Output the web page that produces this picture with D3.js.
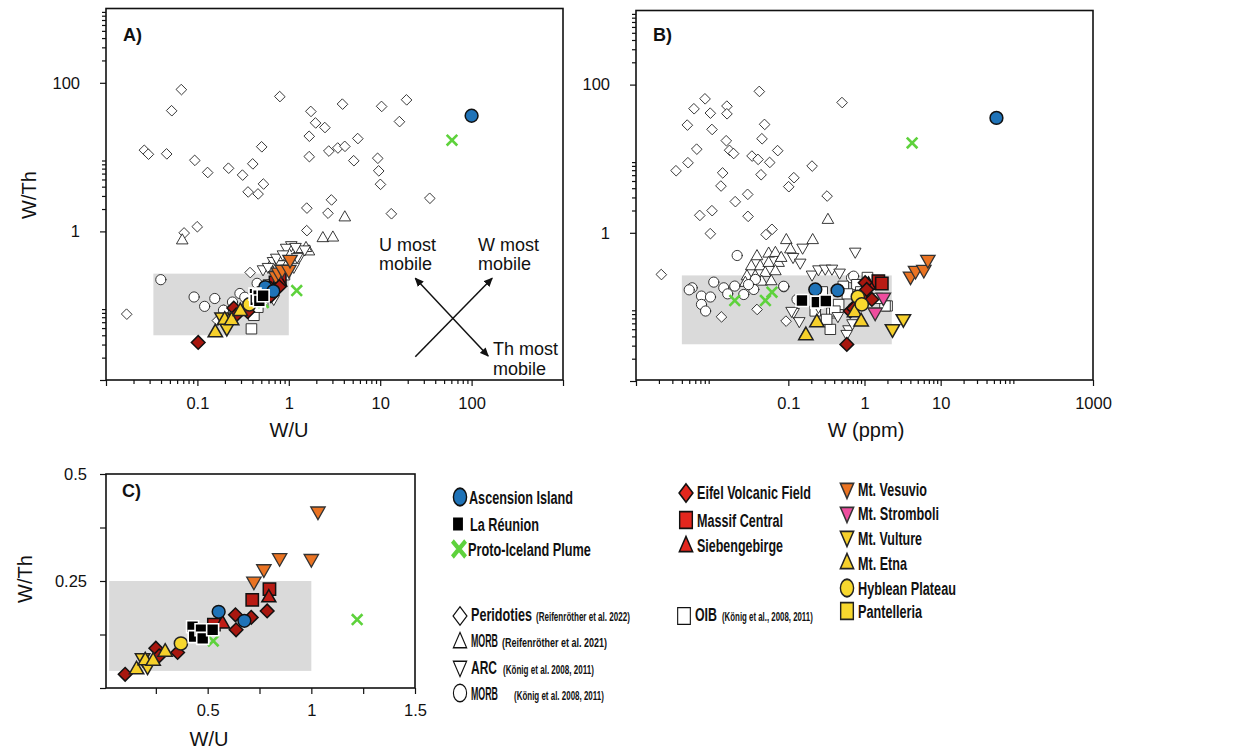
<!DOCTYPE html>
<html><head><meta charset="utf-8">
<script src="https://cdn.jsdelivr.net/npm/d3@7"></script>
<style>
body{margin:0;background:#fff}
svg{display:block}
text{font-family:"Liberation Sans",Arial,Helvetica,sans-serif;fill:#111}
</style>
</head><body>
<svg id="c" width="1258" height="750"></svg>
<script>
// ================= DATA =================
// Panels A & C : [W/U, W/Th]
const ascensionWU   = [[0.553,0.178],[0.677,0.157],[100,36]];
const reunionWU     = [[0.427,0.143],[0.435,0.120],[0.468,0.136],[0.476,0.116],[0.524,0.136]];
const icelandWU     = [[61,16.9],[1.221,0.160],[0.527,0.110]];
const eifelWU       = [[0.102,0.032],[0.250,0.093],[0.266,0.075],[0.355,0.083],[0.634,0.171],[0.637,0.136],[0.710,0.165],[0.787,0.180]];
const massifWU      = [[0.530,0.148],[0.715,0.206],[0.798,0.231]];
const siebenWU      = [[0.572,0.151],[0.795,0.212]];
const vesuvioWU     = [[0.723,0.248],[0.771,0.277],[0.847,0.303],[1.000,0.301],[1.032,0.412]];
const vultureWU     = [[0.186,0.069],[0.210,0.050]];
const etnaWU        = [[0.157,0.044],[0.199,0.065],[0.237,0.064],[0.295,0.085]];
const hybleanWU     = [[0.371,0.104]];

// Panel A open symbols : [W/U, W/Th]
const peridotitesA = [[0.067,80.7],[0.0525,41.9],[0.0264,12.3],[0.0292,10.9],[0.0463,11.0],[0.094,9.0],[0.130,6.18],[0.220,7.06],[0.313,5.7],[0.405,8.07],[0.507,13.7],[0.36,3.38],[0.463,3.18],[0.53,4.32],[0.80,65],[1.75,41],[1.97,28.7],[2.49,24.9],[1.68,19.0],[1.68,10.1],[2.75,12.0],[3.45,13.2],[4.12,13.9],[3.88,51.4],[5.71,17.7],[5.16,8.9],[10.4,47.9],[19.5,58.7],[16.3,29.9],[9.43,9.6],[9.67,6.5],[10.1,4.28],[35,2.78],[13.3,1.72],[2.94,2.64],[2.69,1.75],[1.58,2.05],[1.58,1.02],[0.072,0.95],[0.1,1.15],[0.0169,0.0766],[0.379,0.278],[0.166,0.0625],[0.196,0.087]];
const morbReifA = [[0.0686,0.76],[2.37,0.815],[3.05,0.83],[4.12,1.55],[1.67,0.54],[1.55,0.60],[1.30,0.56],[0.62,0.33],[0.85,0.45]];
const arcA = [[1.07,0.65],[0.94,0.60],[1.32,0.464],[1.5,0.57],[0.675,0.398],[0.80,0.36],[0.525,0.308],[0.595,0.331],[0.733,0.441],[0.867,0.489],[1.19,0.616],[1.24,0.452],[1.14,0.332],[0.688,0.123],[0.61,0.20],[0.70,0.15]];
const morbKonigA = [[0.0398,0.224],[0.092,0.131],[0.12,0.098],[0.155,0.125],[0.292,0.146],[0.242,0.112],[0.193,0.087],[0.45,0.20],[0.33,0.13]];
const oibA = [[0.392,0.0488],[0.417,0.074],[0.46,0.095],[0.52,0.115],[0.56,0.145],[0.60,0.16],[0.66,0.19],[0.75,0.21],[0.90,0.26],[0.50,0.13]];

// Panel B : [W (ppm), W/Th]
const peridotitesB = [[0.00216,0.272],[0.00337,6.85],[0.00484,8.79],[0.00474,28.3],[0.0058,47],[0.0081,64],[0.0095,41],[0.01,24.7],[0.0063,13.4],[0.0157,51],[0.0157,40.2],[0.0154,17.4],[0.017,12.9],[0.0192,11.7],[0.0138,6.4],[0.0131,4.26],[0.0202,2.62],[0.0294,3.29],[0.01,1.98],[0.0069,1.71],[0.0095,0.97],[0.0297,1.66],[0.0418,80.5],[0.049,28.9],[0.0453,18.5],[0.0335,10.8],[0.0402,9.75],[0.044,6.05],[0.0572,8.87],[0.0728,12.8],[0.1016,4.17],[0.119,5.52],[0.206,7.92],[0.324,3.12],[0.51,57],[0.0512,0.94],[0.0614,1.11],[0.0133,0.073],[0.039,0.092],[0.0937,0.064]];
const morbReifB = [[0.333,1.5],[0.0946,0.80],[0.21,0.80],[0.039,0.485],[0.0555,0.526],[0.068,0.537],[0.0328,0.355],[0.043,0.355],[0.0555,0.394],[0.075,0.394],[0.0288,0.26],[0.037,0.26],[0.05,0.289],[0.068,0.304],[0.0274,0.212],[0.045,0.22],[0.107,0.60],[0.081,0.46],[0.06,0.223],[0.168,0.0426]];
const arcB = [[0.155,0.628],[0.116,0.47],[0.144,0.394],[0.76,0.554],[0.206,0.272],[0.25,0.32],[0.307,0.327],[0.376,0.327],[0.474,0.289],[0.118,0.085],[0.14,0.064],[0.62,0.0497],[0.111,0.088],[0.586,0.043],[0.70,0.06],[0.45,0.075],[0.25,0.10]];
const morbKonigB = [[0.0213,0.494],[0.00546,0.181],[0.00724,0.14],[0.0095,0.136],[0.0105,0.216],[0.0142,0.181],[0.0198,0.191],[0.026,0.147],[0.00724,0.108],[0.0082,0.088],[0.037,0.235],[0.0352,0.172],[0.0873,0.187],[0.13,0.126],[0.675,0.247],[0.72,0.26],[0.087,0.19],[0.005,0.17],[0.016,0.15],[0.03,0.20]];
const oibB = [[0.358,0.0497],[0.376,0.083],[0.46,0.108],[1.99,0.103],[0.227,0.088],[0.53,0.19],[0.41,0.088],[0.32,0.068],[1.87,0.103],[1.5,0.13],[0.8,0.20],[0.6,0.15],[1.1,0.25],[0.9,0.16],[0.28,0.16]];
const ascensionB   = [[0.226,0.172],[0.443,0.167],[54,35.5]];
const reunionB     = [[0.151,0.122],[0.237,0.116],[0.311,0.120]];
const icelandB     = [[4.22,16.3],[0.0198,0.122],[0.05,0.122],[0.061,0.158]];
const eifelB       = [[0.586,0.0312],[0.65,0.088],[0.77,0.105],[0.72,0.095],[0.94,0.133],[1.02,0.212],[1.07,0.172],[1.25,0.126]];
const massifB      = [[1.52,0.223],[1.69,0.207]];
const siebenB      = [[1.13,0.20]];
const vesuvioB     = [[4.02,0.255],[4.68,0.304],[6.01,0.314],[6.79,0.428]];
const stromboliB   = [[1.77,0.133],[1.38,0.0835]];
const vultureB     = [[2.33,0.0497],[3.24,0.068]];
const etnaB        = [[0.17,0.0417],[0.237,0.0624],[0.74,0.085],[0.904,0.064]];
const hybleanB     = [[0.817,0.137],[0.92,0.108]];
const pantelleriaB = [];

// Reference fields (grey boxes) [xmin, xmax, ymin, ymax]
const fieldA = [0.033, 1, 0.04, 0.27];
const fieldB = [0.004, 2.28, 0.0313, 0.266];
const fieldC = [0.025, 1, 0.04, 0.25];

// Tick values / labels
const aXTickVals = [0.1, 1, 10, 100];      const aXTickLabels = ["0.1","1","10","100"];
const bXTickVals = [0.1, 1, 10, 1000];     const bXTickLabels = ["0.1","1","10","1000"];
const abYTickVals = [1, 100];              const abYTickLabels = ["1","100"];
const cXTickVals = [0.25, 0.5, 0.75, 1, 1.25, 1.5]; const cXTickLabels = ["","0.5","","1","","1.5"];
const cYTickVals = [0, 0.125, 0.25, 0.375, 0.5];    const cYTickLabels = ["","","0.25","","0.5"];

// Legend labels
const legendKeys   = ["ascension","reunion","iceland","eifel","massif","sieben","vesuvio","stromboli","vulture","etna","hyblean","pantelleria","peridotite","morbR","arc","morbK","oib"];
const legendLabels = ["Ascension Island","La Réunion","Proto-Iceland Plume","Eifel Volcanic Field","Massif Central","Siebengebirge","Mt. Vesuvio","Mt. Stromboli","Mt. Vulture","Mt. Etna","Hyblean Plateau","Pantelleria","Peridoties","MORB","ARC","MORB","OIB"];
const legendCites  = {peridotite:"(Reifenröther et al. 2022)", morbR:"(Reifenröther et al. 2021)", arc:"(König et al. 2008, 2011)", morbK:"(König et al. 2008, 2011)", oib:"(König et al., 2008, 2011)"};

// ================= STYLES / LAYOUT =================
const SHAPES = {
  circle: r => `M${r},0A${r},${r},0,1,1,${-r},0A${r},${r},0,1,1,${r},0Z`,
  square: r => { const s = r*0.88; return `M${-s},${-s}H${s}V${s}H${-s}Z`; },
  diamond: r => { const d = r*1.1; return `M0,${-d}L${d},0L0,${d}L${-d},0Z`; },
  up: r => `M0,${-r*1.1}L${r},${r*0.65}L${-r},${r*0.65}Z`,
  down: r => `M0,${r*1.1}L${r},${-r*0.65}L${-r},${-r*0.65}Z`,
  cross: r => `M${-r},${-r}L${r},${r}M${-r},${r}L${r},${-r}`
};
const OPEN = {fill:"#fff", stroke:"#222", sw:0.9};
const STY = {
  peridotite:{shape:"diamond", r:4.7, ...OPEN},
  morbR:     {shape:"up", r:5.6, ...OPEN},
  arc:       {shape:"down", r:5.6, ...OPEN},
  morbK:     {shape:"circle", r:5.1, ...OPEN},
  oib:       {shape:"square", r:5.8, ...OPEN},
  ascension: {shape:"circle", r:6.4, fill:"#1f73b8", stroke:"#111", sw:1.5},
  reunion:   {shape:"square", r:6.8, fill:"#000", stroke:"#fff", sw:1.6},
  iceland:   {shape:"cross", r:5.3, fill:"none", stroke:"#5ed23c", sw:2.6},
  eifel:     {shape:"diamond", r:6.2, fill:"#a8170f", stroke:"#111", sw:1.5},
  massif:    {shape:"square", r:7, fill:"#b81b14", stroke:"#111", sw:1.5},
  sieben:    {shape:"up", r:7, fill:"#bf1d16", stroke:"#111", sw:1.5},
  vesuvio:   {shape:"down", r:7.2, fill:"#ea7322", stroke:"#333", sw:1.3},
  stromboli: {shape:"down", r:7.2, fill:"#ee4d9e", stroke:"#333", sw:1.3},
  vulture:   {shape:"down", r:7.2, fill:"#f6d02b", stroke:"#222", sw:1.5},
  etna:      {shape:"up", r:7.2, fill:"#f6d02b", stroke:"#222", sw:1.5},
  hyblean:   {shape:"circle", r:6.6, fill:"#f8d82e", stroke:"#222", sw:1.5},
  pantelleria:{shape:"square", r:6.6, fill:"#f8d82e", stroke:"#222", sw:1.5}
};
const LEGEND_FILL = {eifel:"#e3271e", massif:"#e3271e", sieben:"#e3271e"};
// legend layout: [markerX, markerY, textX, baseline, textWidth]
const LEG_POS = {
  ascension:[460,497,469,504,104], reunion:[458,524,470,531,69], iceland:[459,549,468,556,123],
  eifel:[686,493,697,499,114], massif:[686,520,697,526.5,86], sieben:[686,546,697,552,86],
  vesuvio:[847,489,858,495.5,69], stromboli:[847,513,858,520,81], vulture:[847,537,858,545,64],
  etna:[847,563,858,570,49], hyblean:[847,588,858,595,98], pantelleria:[847,611,858,617.5,64],
  peridotite:[460,616,471,621,61], morbR:[460,642,471,647,27], arc:[460,667,471,674,26],
  morbK:[460,693,471,700,27], oib:[684,616,695,621,22]
};
const CITE_POS = {peridotite:[536,94], morbR:[502,105], arc:[503,91], morbK:[514,90], oib:[722,91]};

const svg = d3.select("#c");

function drawPts(g, data, key, xs, ys, filt) {
  const s = STY[key];
  const pts = filt ? data.filter(filt) : data;
  g.append("g").selectAll("path").data(pts).enter().append("path")
    .attr("transform", d => `translate(${xs(d[0])},${ys(d[1])})`)
    .attr("d", SHAPES[s.shape](s.r))
    .attr("fill", s.fill).attr("stroke", s.stroke).attr("stroke-width", s.sw)
    .attr("stroke-linejoin", "miter").attr("stroke-linecap", s.shape === "cross" ? "butt" : "round");
}

function minorLog(decades) {
  const out = [];
  decades.forEach(d => { for (let k = 2; k <= 9; k++) out.push(k * Math.pow(10, d)); });
  return out;
}

function styleAxis(g, fs) {
  g.select(".domain").remove();
  g.selectAll("line").attr("stroke", "#111").attr("stroke-width", 1.2);
  g.selectAll("text").attr("font-size", fs).attr("font-family", '"Liberation Sans",Arial,sans-serif').attr("fill", "#111");
}

function axisSet(gen, scale, vals, labels, size, pad, tx, ty, fs) {
  const m = new Map(vals.map((v, i) => [v, labels ? labels[i] : ""]));
  const ax = gen(scale).tickValues(vals).tickSize(size).tickPadding(pad).tickFormat(d => m.get(d) || "");
  const g = svg.append("g").attr("transform", `translate(${tx},${ty})`).call(ax);
  styleAxis(g, fs);
  return g;
}

function frame(x0, x1, y0, y1) {
  svg.append("rect").attr("x", x0).attr("y", y1).attr("width", x1 - x0).attr("height", y0 - y1)
    .attr("fill", "none").attr("stroke", "#111").attr("stroke-width", 1.6);
}

function field(xs, ys, f) {
  svg.append("rect").attr("x", xs(f[0])).attr("y", ys(f[3]))
    .attr("width", xs(f[1]) - xs(f[0])).attr("height", ys(f[2]) - ys(f[3])).attr("fill", "#dadada");
}

// condensed text: natural text horizontally scaled to a target width
function condensed(g, x, y, size, str, width) {
  const t = g.append("text").attr("font-size", size).attr("font-weight", "bold").text(str);
  const w = t.node().getComputedTextLength() || width;
  t.attr("transform", `translate(${x},${y}) scale(${(width / w).toFixed(4)},1)`);
  return t;
}

// ================= PANEL A =================
const xA = d3.scaleLog().domain([0.01, 1000]).range([106, 563]);
const yA = d3.scaleLog().domain([0.01, 1000]).range([380, 8.5]);
field(xA, yA, fieldA);
const gA = svg.append("g");
drawPts(gA, peridotitesA, "peridotite", xA, yA);
drawPts(gA, morbReifA, "morbR", xA, yA);
drawPts(gA, morbKonigA, "morbK", xA, yA);
drawPts(gA, oibA, "oib", xA, yA);
drawPts(gA, arcA, "arc", xA, yA);
const colorSetsWU = [["massif",massifWU],["sieben",siebenWU],["vesuvio",vesuvioWU],["eifel",eifelWU],["vulture",vultureWU],["etna",etnaWU],["hyblean",hybleanWU],["iceland",icelandWU],["ascension",ascensionWU],["reunion",reunionWU]];
colorSetsWU.forEach(([k, d]) => drawPts(gA, d, k, xA, yA));

axisSet(d3.axisBottom, xA, [0.01, ...aXTickVals, 1000], ["", ...aXTickLabels, ""], 6, 11, 0, 380, "16.5px");
axisSet(d3.axisBottom, xA, minorLog([-2, -1, 0, 1]), null, 4, 0, 0, 380, "0px");
axisSet(d3.axisLeft, yA, [0.01, ...abYTickVals], ["", ...abYTickLabels], 6, 20, 106, 0, "16.5px");
axisSet(d3.axisLeft, yA, minorLog([-2, 0, 2]), null, 4, 0, 106, 0, "0px");
frame(106, 563, 380, 8.5);

svg.append("text").attr("x", 123).attr("y", 41).attr("font-size", "18px").attr("font-weight", "bold").text("A)");
svg.append("text").attr("x", 289).attr("y", 437).attr("text-anchor", "middle").attr("font-size", "20px").text("W/U");
svg.append("text").attr("transform", "translate(36,195) rotate(-90)").attr("text-anchor", "middle").attr("font-size", "20px").text("W/Th");

// mobility annotation (data coordinates)
const defs = svg.append("defs");
defs.append("marker").attr("id", "ah").attr("viewBox", "0 0 10 10").attr("refX", 9).attr("refY", 5)
  .attr("markerWidth", 9).attr("markerHeight", 9).attr("markerUnits", "userSpaceOnUse").attr("orient", "auto-start-reverse")
  .append("path").attr("d", "M0,0.5L10,5L0,9.5Z").attr("fill", "#111");
const arrowsA = [
  {from:[24.2,0.234], to:[152,0.021], both:true},
  {from:[24.2,0.0205], to:[168,0.234], both:false}
];
arrowsA.forEach(a => {
  svg.append("line").attr("x1", xA(a.from[0])).attr("y1", yA(a.from[1])).attr("x2", xA(a.to[0])).attr("y2", yA(a.to[1]))
    .attr("stroke", "#111").attr("stroke-width", 1.5)
    .attr("marker-end", "url(#ah)").attr("marker-start", a.both ? "url(#ah)" : null);
});
const annA = [["U most", 379, 251], ["mobile", 379, 270], ["W most", 478, 251], ["mobile", 478, 270], ["Th most", 493, 355], ["mobile", 493, 374.5]];
annA.forEach(t => svg.append("text").attr("x", t[1]).attr("y", t[2]).attr("font-size", "18px").text(t[0]));

// ================= PANEL B =================
const xB = d3.scaleLog().domain([0.001, 1000]).range([636, 1093]);
const yB = d3.scaleLog().domain([0.01, 1000]).range([381, 10.5]);
field(xB, yB, fieldB);
const gB = svg.append("g");
drawPts(gB, peridotitesB, "peridotite", xB, yB);
drawPts(gB, morbReifB, "morbR", xB, yB);
drawPts(gB, morbKonigB, "morbK", xB, yB);
drawPts(gB, oibB, "oib", xB, yB);
drawPts(gB, arcB, "arc", xB, yB);
const colorSetsB = [["massif",massifB],["sieben",siebenB],["vesuvio",vesuvioB],["eifel",eifelB],["stromboli",stromboliB],["vulture",vultureB],["etna",etnaB],["hyblean",hybleanB],["pantelleria",pantelleriaB],["iceland",icelandB],["ascension",ascensionB],["reunion",reunionB]];
colorSetsB.forEach(([k, d]) => drawPts(gB, d, k, xB, yB));

axisSet(d3.axisBottom, xB, [0.001, ...bXTickVals], ["", ...bXTickLabels], 6, 11, 0, 380, "16.5px");
axisSet(d3.axisBottom, xB, minorLog([-3, -1, 0, 1]), null, 4, 0, 0, 380, "0px");
axisSet(d3.axisLeft, yB, [0.01, ...abYTickVals], ["", ...abYTickLabels], 6, 20, 636, 0, "16.5px");
axisSet(d3.axisLeft, yB, minorLog([-2, 0, 2]), null, 4, 0, 636, 0, "0px");
frame(636, 1093, 380, 10.5);
svg.append("text").attr("x", 653).attr("y", 41).attr("font-size", "18px").attr("font-weight", "bold").text("B)");
svg.append("text").attr("x", 866).attr("y", 437).attr("text-anchor", "middle").attr("font-size", "20px").text("W (ppm)");

// ================= PANEL C =================
const xC = d3.scaleLinear().domain([0, 1.5]).range([104, 415]);
const yC = d3.scaleLinear().domain([0, 0.5]).range([688, 474]);
field(xC, yC, fieldC);
const gC = svg.append("g");
const inC = d => d[0] <= 1.5 && d[1] <= 0.5;
colorSetsWU.forEach(([k, d]) => drawPts(gC, d, k, xC, yC, inC));
axisSet(d3.axisBottom, xC, cXTickVals, cXTickLabels, 6, 10, 0, 688, "16.5px");
axisSet(d3.axisLeft, yC, cYTickVals, cYTickLabels, 6, 13, 106, 0, "16.5px");
frame(106, 415, 688, 474);
svg.append("text").attr("x", 122).attr("y", 497).attr("font-size", "18px").attr("font-weight", "bold").text("C)");
svg.append("text").attr("x", 209).attr("y", 746).attr("text-anchor", "middle").attr("font-size", "20px").text("W/U");
svg.append("text").attr("transform", "translate(31.5,579) rotate(-90)").attr("text-anchor", "middle").attr("font-size", "20px").text("W/Th");

// ================= LEGEND =================
const gL = svg.append("g");
legendKeys.forEach((k, i) => {
  const p = LEG_POS[k], s = STY[k];
  const isCross = s.shape === "cross";
  gL.append("path")
    .attr("transform", `translate(${p[0]},${p[1]}) scale(${isCross ? 1.2 : 1},${isCross ? 1.45 : 1.32})`)
    .attr("d", SHAPES[s.shape](isCross ? 5.5 : (s.shape === "diamond" ? 6.3 : s.shape === "square" ? (k === "reunion" ? 5.6 : 7.2) : 6.6)))
    .attr("fill", LEGEND_FILL[k] || s.fill)
    .attr("stroke", k === "reunion" ? "none" : (s.fill === "#fff" ? "#111" : s.stroke))
    .attr("stroke-width", isCross ? 3.3 : (s.fill === "#fff" ? 1.1 : 1.4));
  condensed(gL, p[2], p[3], "19px", legendLabels[i], p[4]);
  if (legendCites[k]) {
    const c = CITE_POS[k];
    condensed(gL, c[0], p[3], "12px", legendCites[k], c[1]);
  }
});
</script>
</body></html>
